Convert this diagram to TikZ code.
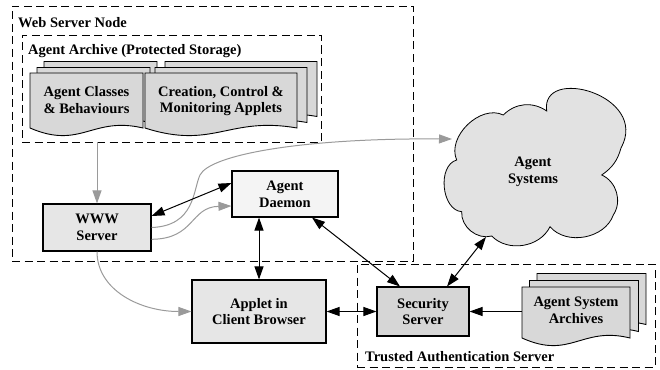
\documentclass[tikz,border=0pt]{standalone}
\usepackage{fontspec}
\setmainfont{Liberation Serif}
\usetikzlibrary{arrows.meta}
\definecolor{boxA}{HTML}{E6E6E6}
\definecolor{boxD}{HTML}{F4F4F4}
\definecolor{boxS}{HTML}{D6D6D6}
\definecolor{docF}{HTML}{D8D8D8}
\definecolor{cloudF}{HTML}{E2E2E2}
\definecolor{lineG}{HTML}{9A9A9A}
\newcommand\docshape[4]{%
  \filldraw[docst] (#1,#2) -- ({#1+#3},#2) -- ({#1+#3},{#2+#4})
    .. controls ({#1+0.55*#3},{#2+#4-12}) and ({#1+0.45*#3},{#2+#4+22}) .. (#1,{#2+#4}) -- cycle;}
\tikzset{
  lbl/.style={font=\bfseries\fontsize{14.5}{16.8}\selectfont, align=center, inner sep=0pt},
  boxnode/.style={draw=black, line width=1.1pt, inner sep=0pt, lbl},
  dashbox/.style={draw=black, dash pattern=on 8pt off 4.5pt, line width=0.9pt, inner sep=0pt},
  docst/.style={fill=docF, draw=black, line width=0.9pt},
  tipT/.tip={Triangle[length=13pt,width=9pt]},
  blk/.style={line width=1pt, tipT-tipT},
  blk1/.style={line width=1pt, -tipT},
  gry/.style={draw=lineG, line width=1pt, -tipT},
}
\begin{document}
\begin{tikzpicture}[x=1pt,y=-1pt]
\useasboundingbox (0,0) rectangle (660,369);
% containers
\node[dashbox, minimum width=401pt, minimum height=255pt] (wsn) at (212.5,133.5) {};
\node[dashbox, minimum width=299pt, minimum height=107pt] (arch) at (171.5,88.5) {};
\node[dashbox, minimum width=298pt, minimum height=103pt] (tas) at (506,315.5) {};
\node[lbl, anchor=base west] (wsnlbl) at (18,28) {Web Server Node};
\node[lbl, anchor=base west] (archlbl) at (28,55) {Agent Archive (Protected Storage)};
\node[lbl, anchor=base west] (taslbl) at (365,361) {Trusted Authentication Server};
% document stacks
\docshape{44}{61.5}{113}{55}
\docshape{37}{67.5}{113}{55}
\docshape{30}{73}{113}{55}
\docshape{165}{61.5}{152}{55}
\docshape{155}{67.5}{152}{55}
\docshape{145}{73}{152}{55}
\docshape{537}{273.5}{109}{51}
\docshape{529.5}{280.5}{109}{51}
\docshape{522}{287}{108}{51}
\node[lbl, minimum width=113pt] (acb) at (86.5,100) {Agent Classes\\\& Behaviours};
\node[lbl, minimum width=152pt] (ccm) at (221,101) {Creation, Control \&\\Monitoring Applets};
\node[lbl, minimum width=108pt, minimum height=46pt] (asa) at (576,310) {Agent System\\Archives};
% cloud
\filldraw[fill=cloudF, draw=black, line width=0.8pt]
  (456.7,160) to[bend left=70] (503.3,115)
  to[bend left=40] (546.7,111)
  .. controls (540,65) and (650,95) .. (621,148)
  to[bend left=20] (601.7,175)
  to[bend left=50] (613.3,215)
  to[bend left=60] (550,226.7)
  to[bend left=55] (491.7,236)
  to[bend left=55] (461.7,211.7)
  to[bend left=80] (456.7,160) -- cycle;
\node[lbl] (agsys) at (533,172) {Agent\\Systems};
\coordinate (cloudL) at (452,139);
\coordinate (cloudB) at (486,237);
% boxes
\node[boxnode, fill=boxA, minimum width=108pt, minimum height=47pt] (www) at (97,227.5) {WWW\\Server};
\node[boxnode, fill=boxD, minimum width=106pt, minimum height=46pt] (daemon) at (285,194) {Agent\\Daemon};
\node[boxnode, fill=boxA, minimum width=134pt, minimum height=63pt] (applet) at (259,311.5) {Applet in\\Client Browser};
\node[boxnode, fill=boxS, minimum width=92pt, minimum height=49pt] (security) at (423,311.5) {Security\\Server};
% gray connectors
\draw[gry] (www.north |- arch.south) -- (www.north);
\draw[gry] (www.east) .. controls (195,226) and (193,190) .. (200,175)
  .. controls (210,155) and (300,138) .. (cloudL);
\draw[gry] ([yshift=-11.8pt]www.east) .. controls (195,239) and (190,207) .. ([yshift=-12pt]daemon.west);
\draw[gry] (www.south) .. controls (97,290) and (140,311.5) .. (applet.west);
% black connectors
\draw[blk] ([yshift=11.5pt]www.east) -- ([yshift=11pt]daemon.west);
\draw[blk] (applet.north |- daemon.south) -- (applet.north);
\draw[blk] ([xshift=27pt]daemon.south) -- ([xshift=-23pt]security.north);
\draw[blk] (applet.east) -- (security.west);
\draw[blk] ([xshift=24pt]security.north) -- (cloudB);
\draw[blk1] (asa.west |- security.east) -- (security.east);
\end{tikzpicture}
\end{document}
